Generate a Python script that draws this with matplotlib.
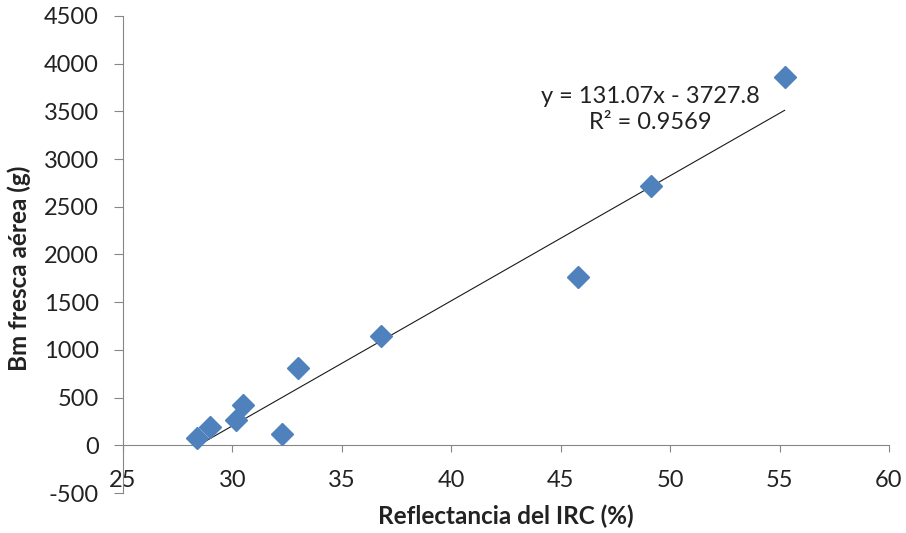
import matplotlib
matplotlib.use("Agg")
import matplotlib.pyplot as plt

plt.rcParams['font.family'] = ['Lato', 'DejaVu Sans']
plt.rcParams['axes.unicode_minus'] = False

# Data
reflectancia = [28.4, 28.97, 30.16, 30.49, 32.27, 32.99, 36.78, 45.78, 49.11, 55.23]
biomasa = [80, 196, 270, 426, 119, 813, 1148, 1765, 2717, 3858]
slope = 131.07
intercept = -3727.8
r2 = 0.9569
x_ticks = [25, 30, 35, 40, 45, 50, 55, 60]
y_ticks = [-500, 0, 500, 1000, 1500, 2000, 2500, 3000, 3500, 4000, 4500]

fs = 17

fig = plt.figure(figsize=(9.06, 5.33), dpi=100)
ax = fig.add_axes([123/906, 1-493/533, (889-123)/906, (493-16)/533])

ax.set_xlim(25, 60)
ax.set_ylim(-500, 4500)
ax.set_xticks(x_ticks)
ax.set_yticks(y_ticks)

gray = '#868686'
for s in ['top', 'right']:
    ax.spines[s].set_visible(False)
ax.spines['bottom'].set_position(('data', 0))
ax.spines['bottom'].set_color(gray)
ax.spines['left'].set_color(gray)
ax.tick_params(axis='y', length=6.5, color=gray, pad=11, labelsize=fs, labelcolor='#222222')
ax.tick_params(axis='x', length=5, color=gray, pad=13, labelsize=fs, labelcolor='#222222')

# trend line
xmin, xmax = min(reflectancia), max(reflectancia)
ax.plot([xmin, xmax], [slope*xmin + intercept, slope*xmax + intercept],
        color='#1a1a1a', lw=0.8, zorder=2)

ax.plot(reflectancia, biomasa, linestyle='none', marker='D', markersize=11,
        color='#4F81BD', markeredgecolor='#4F81BD', zorder=3)

ax.text(49.11, 3523, f"y = {slope}x - {abs(intercept)}\nR² = {r2}",
        ha='center', va='center', fontsize=fs, color='#222222', linespacing=1.3)

ax.set_xlabel('Reflectancia del IRC (%)', fontsize=17.5, fontweight='bold', color='#222222')
ax.set_ylabel('Bm fresca aérea (g)', fontsize=17.5, fontweight='bold', color='#222222')
ax.xaxis.set_label_coords(0.5, -0.024)
ax.yaxis.set_label_coords(-0.12, 0.47)

fig.savefig('out.png', dpi=100)
